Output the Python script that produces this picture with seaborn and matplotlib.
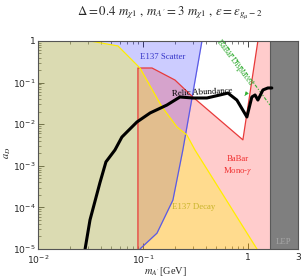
import matplotlib
matplotlib.use("Agg")
import matplotlib.pyplot as plt
import pandas as pd
import seaborn as sns

# relic abundance curve
relic_m = [0.0281, 0.0313, 0.0389, 0.0444, 0.0541, 0.063, 0.0704, 0.0877, 0.117, 0.169,
           0.225, 0.299, 0.407, 0.541, 0.645, 0.785, 0.978, 1.09, 1.17, 1.245, 1.39, 1.55, 1.69]
relic_a = [1e-5, 5.0e-5, 3.9e-4, 1.24e-3, 2.4e-3, 4.9e-3, 6.5e-3, 0.0113, 0.0186, 0.0288,
           0.045, 0.0426, 0.0426, 0.0503, 0.056, 0.038, 0.0149, 0.045, 0.0503, 0.038, 0.0664, 0.0742, 0.0742]

# E137 decay boundary (yellow)
decay_m = [0.01, 0.0313, 0.0578, 0.0936, 0.152, 0.211, 0.262, 0.313, 1.22]
decay_a = [1, 1, 0.758, 0.224, 0.0259, 0.00857, 0.0055, 0.0024, 1e-5]

# E137 scatter boundary (blue)
scatter_m = [0.0936, 0.136, 0.193, 0.240, 0.299, 0.365]
scatter_a = [1e-5, 2.4e-5, 1.5e-4, 2.4e-3, 0.056, 1]

# BaBar mono-photon boundary (red)
babar_m = [0.0896, 0.0896, 0.122, 0.202, 0.299, 0.896, 1.245]
babar_a = [1e-5, 0.224, 0.224, 0.115, 0.045, 0.0042, 1]

# BaBar displaced (green dashed)
displaced_m = [0.578, 1.62]
displaced_a = [1, 0.0289]

lep_min = 1.62
x_min, x_max = 0.01, 3
y_min, y_max = 1e-5, 1

sns.set_style("ticks")
serif = ["Liberation Serif", "DejaVu Serif"]

fig = plt.figure(figsize=(3.03, 2.77), dpi=100)
ax = fig.add_axes([0.1254, 0.1011, 0.858, 0.751])
ax.set_xscale("log")
ax.set_yscale("log")

# shaded regions
ax.fill_betweenx(scatter_a, x_min, scatter_m, color=(0, 0, 1), alpha=0.2, lw=0)
ax.fill(babar_m + [x_max, x_max], babar_a + [y_max, y_min], color=(1, 0, 0), alpha=0.2, lw=0)
ax.fill_between(decay_m, y_min, decay_a, color=(1, 1, 0), alpha=0.3, lw=0)

ax.plot(scatter_m, scatter_a, color="#5a5ae6", lw=0.9)
ax.plot(babar_m, babar_a, color="#e83a3a", lw=0.9)
ax.plot(decay_m, decay_a, color="#ffee00", lw=0.9)
ax.plot(displaced_m, displaced_a, color="#33b033", lw=0.8, ls=(0, (3, 1.5, 1, 1.5)))

ax.axvspan(lep_min, x_max, color="#7f7f7f", lw=0)
ax.axvline(lep_min, color="#5a5a5a", lw=0.8)

relic_df = pd.DataFrame({"m": relic_m, "a": relic_a})
sns.lineplot(data=relic_df, x="m", y="a", color="black", lw=2.2, sort=False,
             estimator=None, ax=ax)

# labels inside plot
ax.text(0.155, 0.41, "E137 Scatter", color="#3535c8", fontsize=6.3, family=serif,
        ha="center", va="center")
ax.text(0.365, 0.0594, "Relic Abundance", color="black", fontsize=6.3, family=serif,
        ha="center", va="center", rotation=3)
ax.text(0.80, 1e-3, "BaBar\nMono-$\\gamma$", color="#f03030", fontsize=6.3, family=serif,
        ha="center", va="center", linespacing=1.3, math_fontfamily="stix")
ax.text(0.306, 1.0e-4, "E137 Decay", color="#c8b428", fontsize=6.3, family=serif,
        ha="center", va="center")
ax.text(2.2, 1.45e-5, "LEP", color="#a8a8a8", fontsize=6.3, family=serif,
        ha="center", va="center")
ax.text(0.74, 0.30, "BaBar Displaced", color="#2ea82e", fontsize=5.8, family=serif,
        ha="center", va="center", rotation=-53)
ax.annotate("", xy=(0.90, 0.043), xytext=(0.97, 0.055),
            arrowprops=dict(arrowstyle="-|>", color="#33b033", lw=0.6,
                            mutation_scale=5))

ax.set_xlim(x_min, x_max)
ax.set_ylim(y_min, y_max)

ax.set_xticks([0.01, 0.1, 1, 3])
ax.set_xticklabels(["$10^{-2}$", "$10^{-1}$", "1", "3"])
ax.set_yticks([1e-5, 1e-4, 1e-3, 1e-2, 1e-1, 1])
ax.set_yticklabels(["$10^{-5}$", "$10^{-4}$", "$10^{-3}$", "$10^{-2}$", "$10^{-1}$", "1"])
ax.tick_params(which="both", direction="in", top=True, right=True, labelsize=6.6,
               color="#444444")
ax.tick_params(which="major", length=4, width=0.7)
ax.tick_params(which="minor", length=2, width=0.5)
ax.tick_params(axis="x", pad=3)
ax.tick_params(axis="y", pad=1.5)
for s in ax.spines.values():
    s.set_color("#555555")
    s.set_linewidth(0.8)

ax.set_xlabel("$m_{A'}$[GeV]", family=serif, fontsize=7.5, math_fontfamily="stix")
ax.xaxis.set_label_coords(0.49, -0.078)
ax.set_ylabel("$a_D$", family=serif, fontsize=7.5, math_fontfamily="stix")
ax.yaxis.set_label_coords(-0.095, 0.46)

ax.text(0.508, 1.135,
        "$\\Delta = 0.4\\ m_{\\chi 1}\\ ,\\, m_{A'} = 3\\ m_{\\chi 1}\\ ,\\, \\epsilon = \\epsilon_{g_\\mu - 2}$",
        transform=ax.transAxes, ha="center", va="center", fontsize=9.3,
        math_fontfamily="stix")

fig.savefig("out.png", dpi=100)
